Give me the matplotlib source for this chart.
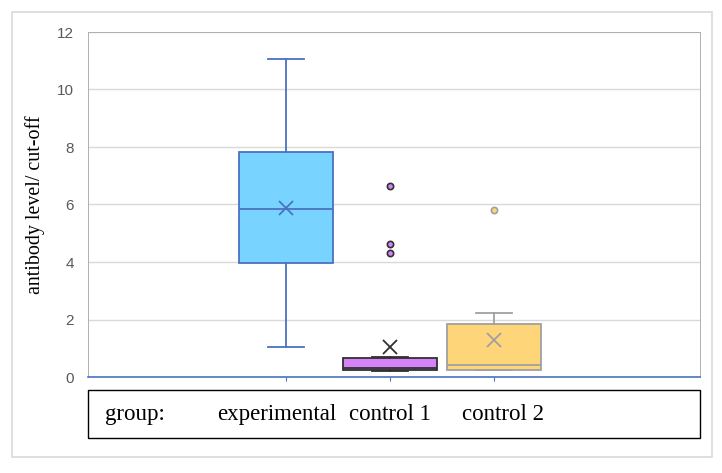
import matplotlib
matplotlib.use("Agg")
import matplotlib.pyplot as plt
from matplotlib.patches import Rectangle

groups = ["experimental", "control 1", "control 2"]
whislo = [1.04, 0.20, 0.23]
q1 = [3.97, 0.24, 0.26]
med = [5.84, 0.30, 0.42]
q3 = [7.83, 0.66, 1.84]
whishi = [11.06, 0.71, 2.21]
means = [5.88, 1.05, 1.29]
fliers = [[], [6.64, 4.63, 4.31], [5.81]]

fills = ["#78D4FF", "#D683FA", "#FFD57A"]
edges = ["#4A72C0", "#303030", "#A0A0A0"]
yticks = [0, 2, 4, 6, 8, 10, 12]

fig = plt.figure(figsize=(7.22, 4.73), dpi=100)
W, H = 722, 473

# outer border
fig.patches.append(Rectangle((12 / W, 1 - 457 / H), 700 / W, 445 / H, transform=fig.transFigure,
                             fill=False, edgecolor="#D9D9D9", linewidth=1.2))

ax = fig.add_axes([88 / W, 1 - 377 / H, 612 / W, 345 / H])
positions = [1, 2, 3]
for i in range(3):
    st = [dict(whislo=whislo[i], q1=q1[i], med=med[i], q3=q3[i], whishi=whishi[i],
               mean=means[i], fliers=fliers[i])]
    ax.bxp(st, positions=[positions[i]], widths=0.91, patch_artist=True, showmeans=True,
           boxprops=dict(facecolor=fills[i], edgecolor=edges[i], linewidth=1.3),
           medianprops=dict(color=edges[i], linewidth=1.3),
           whiskerprops=dict(color=edges[i], linewidth=1.3),
           capprops=dict(color=edges[i], linewidth=1.3),
           capwidths=0.35,
           meanprops=dict(marker="x", markeredgecolor=edges[i], markersize=10, markeredgewidth=1.3),
           flierprops=dict(marker="o", markerfacecolor=fills[i], markeredgecolor=edges[i],
                           markersize=4.5, markeredgewidth=1.2))

ax.set_xlim(-0.904, 4.98)
ax.set_ylim(0, 12)
ax.set_yticks(yticks)
ax.set_yticklabels([str(t) for t in yticks], fontfamily="Liberation Sans", fontsize=11, color="#595959")
ax.tick_params(axis="y", length=0, pad=10)
ax.set_xticks([1, 2, 3])
ax.set_xticklabels([])
ax.tick_params(axis="x", length=3, color="#4A72C0", direction="out")
ax.yaxis.grid(True, color="#D9D9D9", linewidth=1.0)
ax.set_axisbelow(True)
for s in ["left", "top", "right"]:
    ax.spines[s].set_linestyle((0, (1, 1)))
    ax.spines[s].set_color("#B0B0B0")
    ax.spines[s].set_linewidth(0.7)
ax.spines["bottom"].set_color("#4A72C0")
ax.spines["bottom"].set_linewidth(1.2)
ax.set_ylabel("antibody level/ cut-off", fontfamily="Liberation Serif", fontsize=14.4, labelpad=9)

# label box
fig.patches.append(Rectangle((88 / W, 1 - 438 / H), 612 / W, 48 / H, transform=fig.transFigure,
                             fill=False, edgecolor="black", linewidth=1.0))
fs = 16.5
fig.text(105 / W, 1 - 414 / H, "group:", fontfamily="Liberation Serif", fontsize=fs, va="center")
fig.text(217 / W, 1 - 414 / H, "experimental", fontfamily="Liberation Serif", fontsize=fs, va="center")
fig.text(349 / W, 1 - 414 / H, "control 1", fontfamily="Liberation Serif", fontsize=fs, va="center")
fig.text(462 / W, 1 - 414 / H, "control 2", fontfamily="Liberation Serif", fontsize=fs, va="center")

fig.savefig("out.png", dpi=100)
